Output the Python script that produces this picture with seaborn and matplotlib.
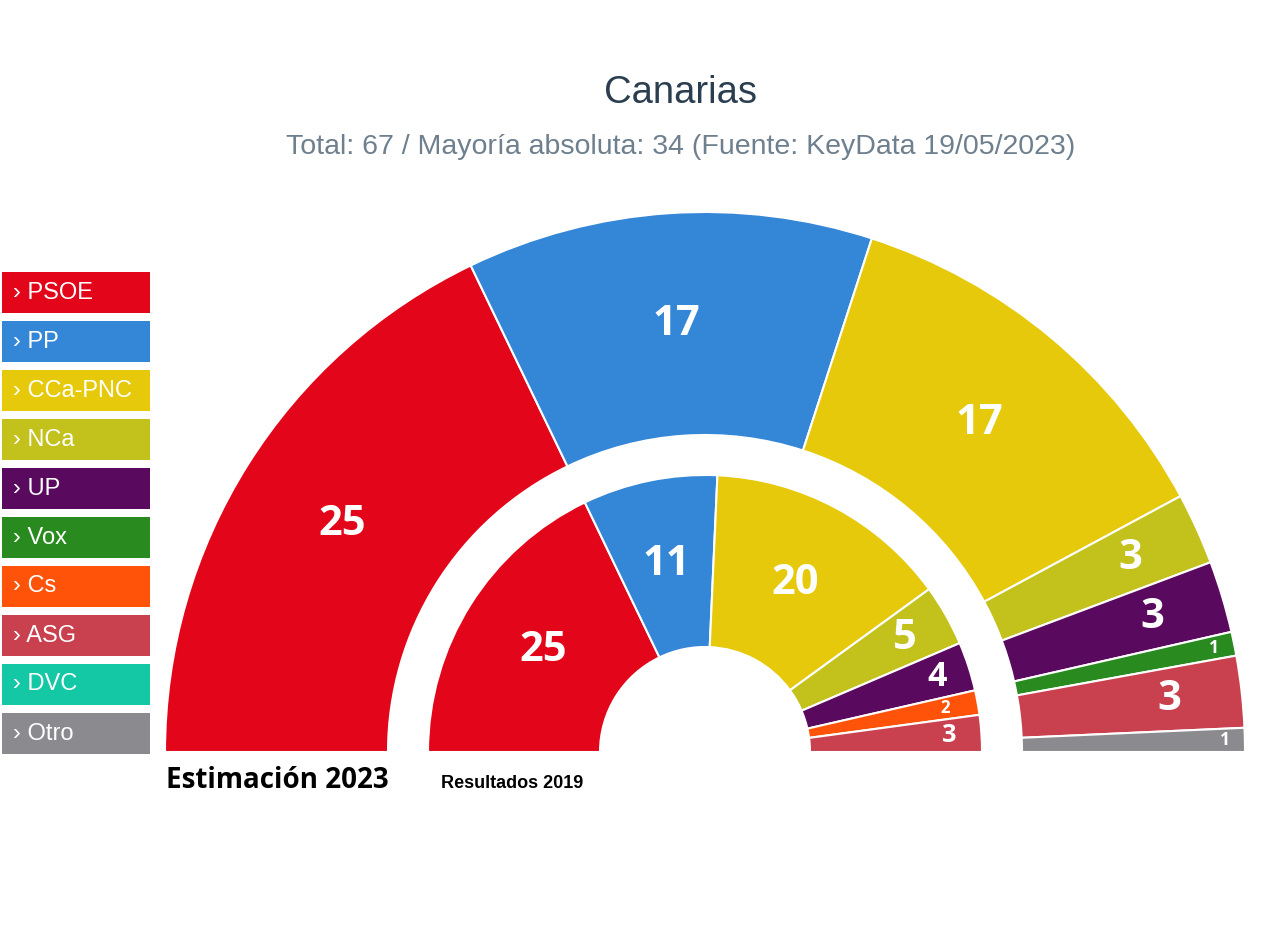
import numpy as np
import matplotlib.pyplot as plt
from matplotlib.patches import Rectangle
import seaborn as sns

sns.set_theme(style="white")
plt.rcParams['font.family'] = ['Liberation Sans', 'DejaVu Sans']

# ── Data ────────────────────────────────────────────────────────────────────
parties = ['PSOE', 'PP', 'CCa-PNC', 'NCa', 'UP', 'Vox', 'Cs', 'ASG', 'DVC', 'Otro']
colors = ['#E3061A', '#3486D6', '#E6C90A', '#C3C11C', '#59095E',
          '#288A1F', '#FF5309', '#C9414F', '#14C8A6', '#8B8A8F']
seats_2023 = [25, 17, 17, 3, 3, 1, 0, 3, 0, 1]   # estimación (outer ring)
seats_2019 = [25, 11, 20, 5, 4, 0, 2, 3, 0, 0]   # resultados (inner ring)

title = 'Canarias'
subtitle = 'Total: 67 / Mayoría absoluta: 34 (Fuente: KeyData 19/05/2023)'

# ── Figure in pixel coordinates ─────────────────────────────────────────────
W, H = 1280, 927
fig = plt.figure(figsize=(W / 100, H / 100), dpi=100)
fig.patch.set_facecolor('white')
ax = fig.add_axes([0, 0, 1, 1])

cx, cy = 705, H - 752

# ring geometry: outer radius, inner radius, outward shift for small labels
rings = [
    (seats_2023, 540, 317, (0.35, 0.82)),
    (seats_2019, 277, 105, (0.45, 0.62)),
]


def draw_ring(seats, r_out, r_in, shift):
    vals = [s for s in seats if s > 0]
    cols = [c for s, c in zip(seats, colors) if s > 0]
    total = sum(vals)
    # hidden bottom half so the visible part is a semicircle
    ax.pie(vals + [total], colors=cols + ['none'], radius=r_out, center=(cx, cy),
           startangle=180, counterclock=False, frame=True,
           wedgeprops=dict(width=r_out - r_in, edgecolor='white', linewidth=1.5))
    ax.patches[-1].set_edgecolor('none')

    mid = (r_out + r_in) / 2
    cum = 0
    for v in vals:
        ang = np.deg2rad(180 - (cum + v / 2) / total * 180)
        cum += v
        if v >= 10:
            r = mid
            fs = 30
        else:
            # font size follows the available arc length
            arc_len = np.deg2rad(v / total * 180) * (mid + 0.5 * (r_out - mid))
            fs = min(30, arc_len * 0.58)
            r = mid + (shift[0] if fs >= 25 else shift[1]) * (r_out - mid)
        ax.text(cx + r * np.cos(ang), cy + r * np.sin(ang), str(v),
                ha='center', va='center', color='white', fontsize=fs,
                fontweight='bold', family=['Open Sans', 'DejaVu Sans'])


for seats, r_out, r_in, shift in rings:
    draw_ring(seats, r_out, r_in, shift)

# ── Legend boxes on the left ────────────────────────────────────────────────
for i, (p, c) in enumerate(zip(parties, colors)):
    top = 272 + i * 49
    ax.add_patch(Rectangle((2, H - top - 41), 148, 41, facecolor=c,
                           edgecolor='none'))
    ax.text(13, H - top - 20.5, '› ' + p, ha='left', va='center',
            color='white', fontsize=17)

# ── Titles and ring captions ────────────────────────────────────────────────
ax.text(681, H - 93, title, ha='center', va='center', fontsize=27.5,
        color='#2B3E50')
ax.text(681, H - 147, subtitle, ha='center', va='center', fontsize=20.5,
        color='#6E7F8E')
ax.text(166, H - 780, 'Estimación 2023', ha='left', va='center', fontsize=20,
        fontweight='bold', color='black', family=['Open Sans', 'DejaVu Sans'])
ax.text(441, H - 783, 'Resultados 2019', ha='left', va='center', fontsize=13,
        fontweight='bold', color='black')

ax.set_xlim(0, W)
ax.set_ylim(0, H)
ax.set_aspect('auto')
ax.axis('off')

fig.savefig('out.png', dpi=100, facecolor='white')
